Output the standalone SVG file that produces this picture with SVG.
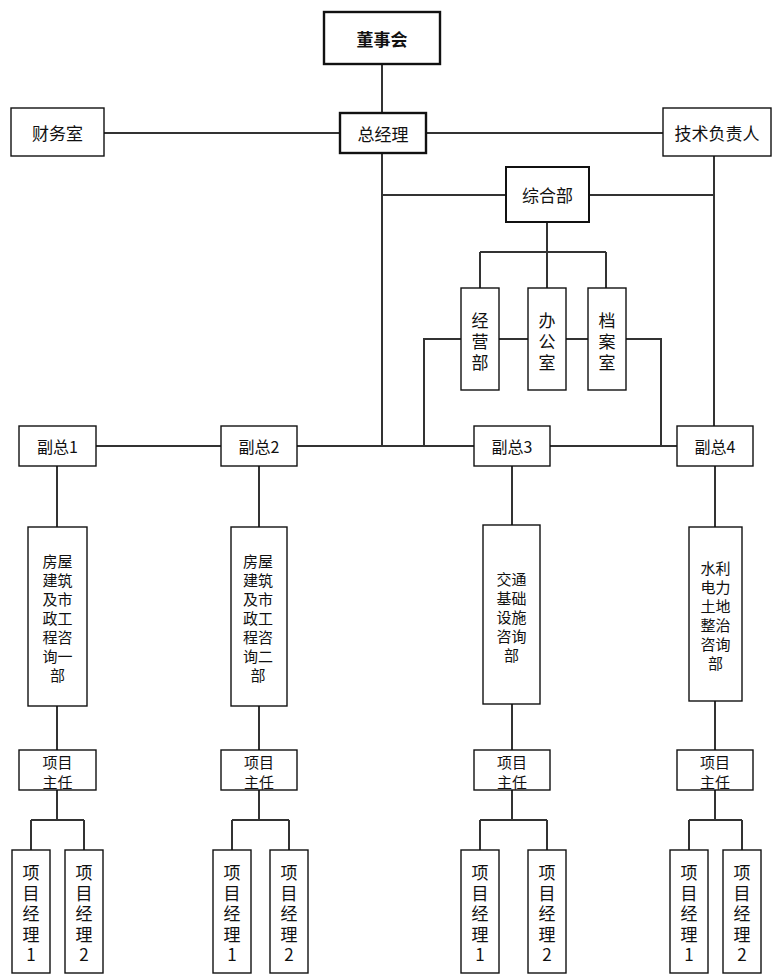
<svg xmlns="http://www.w3.org/2000/svg" width="780" height="980" viewBox="0 0 780 980">
<style>
.b{fill:#fff;stroke:#111;stroke-width:1.4}
.bt{fill:#fff;stroke:#111;stroke-width:2.4}
.c{fill:none;stroke:#333;stroke-width:2}
text{font-family:"Noto Sans CJK SC","Noto Sans",sans-serif;fill:#111;text-anchor:middle;dominant-baseline:central}
.f17{font-size:17px}
.f16{font-size:16px}
.f15{font-size:15px}
.bold{font-weight:bold}
</style>
<rect width="780" height="980" fill="#fff"/>
<g id="connectors">
<path class="c" d="M382 64V113M104 133H340M426 133H663M382 153V446M382 195H506M590 195H714M714 156V428"/>
<path class="c" d="M547 222V252M480 252H606M480 252V288M547 252V288M606 252V288"/>
<path class="c" d="M424 446V339H461M499 339H528M566 339H588M626 339H661V446"/>
<path class="c" d="M96 446H221M297 446H474M550 446H677"/>
<path class="c" d="M57 466V527M57 706V750M57 790V820M31 820H84M31 820V850M84 820V850"/>
<path class="c" d="M259 466V527M259 706V750M259 790V820M232 820H289M232 820V850M289 820V850"/>
<path class="c" d="M512 466V525M512 704V750M512 790V820M480 820H547M480 820V850M547 820V850"/>
<path class="c" d="M715 466V527M715 701V750M715 790V820M689 820H742M689 820V850M742 820V850"/>
</g>
<g id="dongshihui"><rect class="bt" x="324" y="12" width="116" height="52"/><text class="f17 bold" x="382" y="38">董事会</text></g>
<g id="zongjingli"><rect class="bt" x="340" y="113" width="86" height="40"/><text class="f17" x="383" y="133">总经理</text></g>
<g id="caiwushi"><rect class="b" x="11" y="108" width="93" height="48"/><text class="f17" x="57.5" y="132">财务室</text></g>
<g id="jishufuzeren"><rect class="b" x="663" y="108" width="108" height="48"/><text class="f17" x="717" y="132">技术负责人</text></g>
<g id="zonghebu"><rect class="bt" x="506" y="167" width="83" height="55" style="stroke-width:2"/><text class="f17" x="547.5" y="194">综合部</text></g>
<g id="jingyingbu"><rect class="b" x="461" y="288" width="38" height="102"/><text class="f17" x="480" y="319"><tspan x="480">经</tspan><tspan x="480" dy="21">营</tspan><tspan x="480" dy="21">部</tspan></text></g>
<g id="bangongshi"><rect class="b" x="528" y="288" width="38" height="102"/><text class="f17" x="547" y="319"><tspan x="547">办</tspan><tspan x="547" dy="21">公</tspan><tspan x="547" dy="21">室</tspan></text></g>
<g id="danganshi"><rect class="b" x="588" y="288" width="38" height="102"/><text class="f17" x="607" y="319"><tspan x="607">档</tspan><tspan x="607" dy="21">案</tspan><tspan x="607" dy="21">室</tspan></text></g>
<g id="fuzong1"><rect class="b" x="19" y="426" width="77" height="40"/><text class="f16" x="57.5" y="446">副总1</text></g>
<g id="fuzong2"><rect class="b" x="221" y="426" width="76" height="40"/><text class="f16" x="259" y="446">副总2</text></g>
<g id="fuzong3"><rect class="b" x="474" y="426" width="76" height="40"/><text class="f16" x="512" y="446">副总3</text></g>
<g id="fuzong4"><rect class="b" x="677" y="426" width="76" height="40"/><text class="f16" x="715" y="446">副总4</text></g>
<g id="dept1"><rect class="b" x="28" y="527" width="59" height="179"/><text class="f15" x="57.5" y="560"><tspan x="57.5">房屋</tspan><tspan x="57.5" dy="19">建筑</tspan><tspan x="57.5" dy="19">及市</tspan><tspan x="57.5" dy="19">政工</tspan><tspan x="57.5" dy="19">程咨</tspan><tspan x="57.5" dy="19">询一</tspan><tspan x="57.5" dy="19">部</tspan></text></g>
<g id="dept2"><rect class="b" x="231" y="527" width="56" height="179"/><text class="f15" x="258" y="560"><tspan x="258">房屋</tspan><tspan x="258" dy="19">建筑</tspan><tspan x="258" dy="19">及市</tspan><tspan x="258" dy="19">政工</tspan><tspan x="258" dy="19">程咨</tspan><tspan x="258" dy="19">询二</tspan><tspan x="258" dy="19">部</tspan></text></g>
<g id="dept3"><rect class="b" x="483" y="525" width="57" height="179"/><text class="f15" x="511.5" y="578"><tspan x="511.5">交通</tspan><tspan x="511.5" dy="19">基础</tspan><tspan x="511.5" dy="19">设施</tspan><tspan x="511.5" dy="19">咨询</tspan><tspan x="511.5" dy="19">部</tspan></text></g>
<g id="dept4"><rect class="b" x="689" y="527" width="53" height="174"/><text class="f15" x="715.5" y="567"><tspan x="715.5">水利</tspan><tspan x="715.5" dy="19">电力</tspan><tspan x="715.5" dy="19">土地</tspan><tspan x="715.5" dy="19">整治</tspan><tspan x="715.5" dy="19">咨询</tspan><tspan x="715.5" dy="19">部</tspan></text></g>
<g id="zhuren1"><rect class="b" x="19" y="750" width="77" height="40"/><text class="f15" x="57.5" y="761"><tspan x="57.5">项目</tspan><tspan x="57.5" dy="20">主任</tspan></text></g>
<g id="zhuren2"><rect class="b" x="221" y="750" width="76" height="40"/><text class="f15" x="259" y="761"><tspan x="259">项目</tspan><tspan x="259" dy="20">主任</tspan></text></g>
<g id="zhuren3"><rect class="b" x="474" y="750" width="76" height="40"/><text class="f15" x="512" y="761"><tspan x="512">项目</tspan><tspan x="512" dy="20">主任</tspan></text></g>
<g id="zhuren4"><rect class="b" x="677" y="750" width="76" height="40"/><text class="f15" x="715" y="761"><tspan x="715">项目</tspan><tspan x="715" dy="20">主任</tspan></text></g>
<g id="jl1a"><rect class="b" x="12" y="850" width="38" height="123"/><text class="f17" x="31" y="871"><tspan x="31">项</tspan><tspan x="31" dy="20.5">目</tspan><tspan x="31" dy="20.5">经</tspan><tspan x="31" dy="20.5">理</tspan><tspan x="31" dy="20.5">1</tspan></text></g>
<g id="jl1b"><rect class="b" x="65" y="850" width="38" height="123"/><text class="f17" x="84" y="871"><tspan x="84">项</tspan><tspan x="84" dy="20.5">目</tspan><tspan x="84" dy="20.5">经</tspan><tspan x="84" dy="20.5">理</tspan><tspan x="84" dy="20.5">2</tspan></text></g>
<g id="jl2a"><rect class="b" x="213" y="850" width="38" height="123"/><text class="f17" x="232" y="871"><tspan x="232">项</tspan><tspan x="232" dy="20.5">目</tspan><tspan x="232" dy="20.5">经</tspan><tspan x="232" dy="20.5">理</tspan><tspan x="232" dy="20.5">1</tspan></text></g>
<g id="jl2b"><rect class="b" x="270" y="850" width="38" height="123"/><text class="f17" x="289" y="871"><tspan x="289">项</tspan><tspan x="289" dy="20.5">目</tspan><tspan x="289" dy="20.5">经</tspan><tspan x="289" dy="20.5">理</tspan><tspan x="289" dy="20.5">2</tspan></text></g>
<g id="jl3a"><rect class="b" x="461" y="850" width="38" height="123"/><text class="f17" x="480" y="871"><tspan x="480">项</tspan><tspan x="480" dy="20.5">目</tspan><tspan x="480" dy="20.5">经</tspan><tspan x="480" dy="20.5">理</tspan><tspan x="480" dy="20.5">1</tspan></text></g>
<g id="jl3b"><rect class="b" x="528" y="850" width="38" height="123"/><text class="f17" x="547" y="871"><tspan x="547">项</tspan><tspan x="547" dy="20.5">目</tspan><tspan x="547" dy="20.5">经</tspan><tspan x="547" dy="20.5">理</tspan><tspan x="547" dy="20.5">2</tspan></text></g>
<g id="jl4a"><rect class="b" x="670" y="850" width="38" height="123"/><text class="f17" x="689" y="871"><tspan x="689">项</tspan><tspan x="689" dy="20.5">目</tspan><tspan x="689" dy="20.5">经</tspan><tspan x="689" dy="20.5">理</tspan><tspan x="689" dy="20.5">1</tspan></text></g>
<g id="jl4b"><rect class="b" x="723" y="850" width="38" height="123"/><text class="f17" x="742" y="871"><tspan x="742">项</tspan><tspan x="742" dy="20.5">目</tspan><tspan x="742" dy="20.5">经</tspan><tspan x="742" dy="20.5">理</tspan><tspan x="742" dy="20.5">2</tspan></text></g>
</svg>
